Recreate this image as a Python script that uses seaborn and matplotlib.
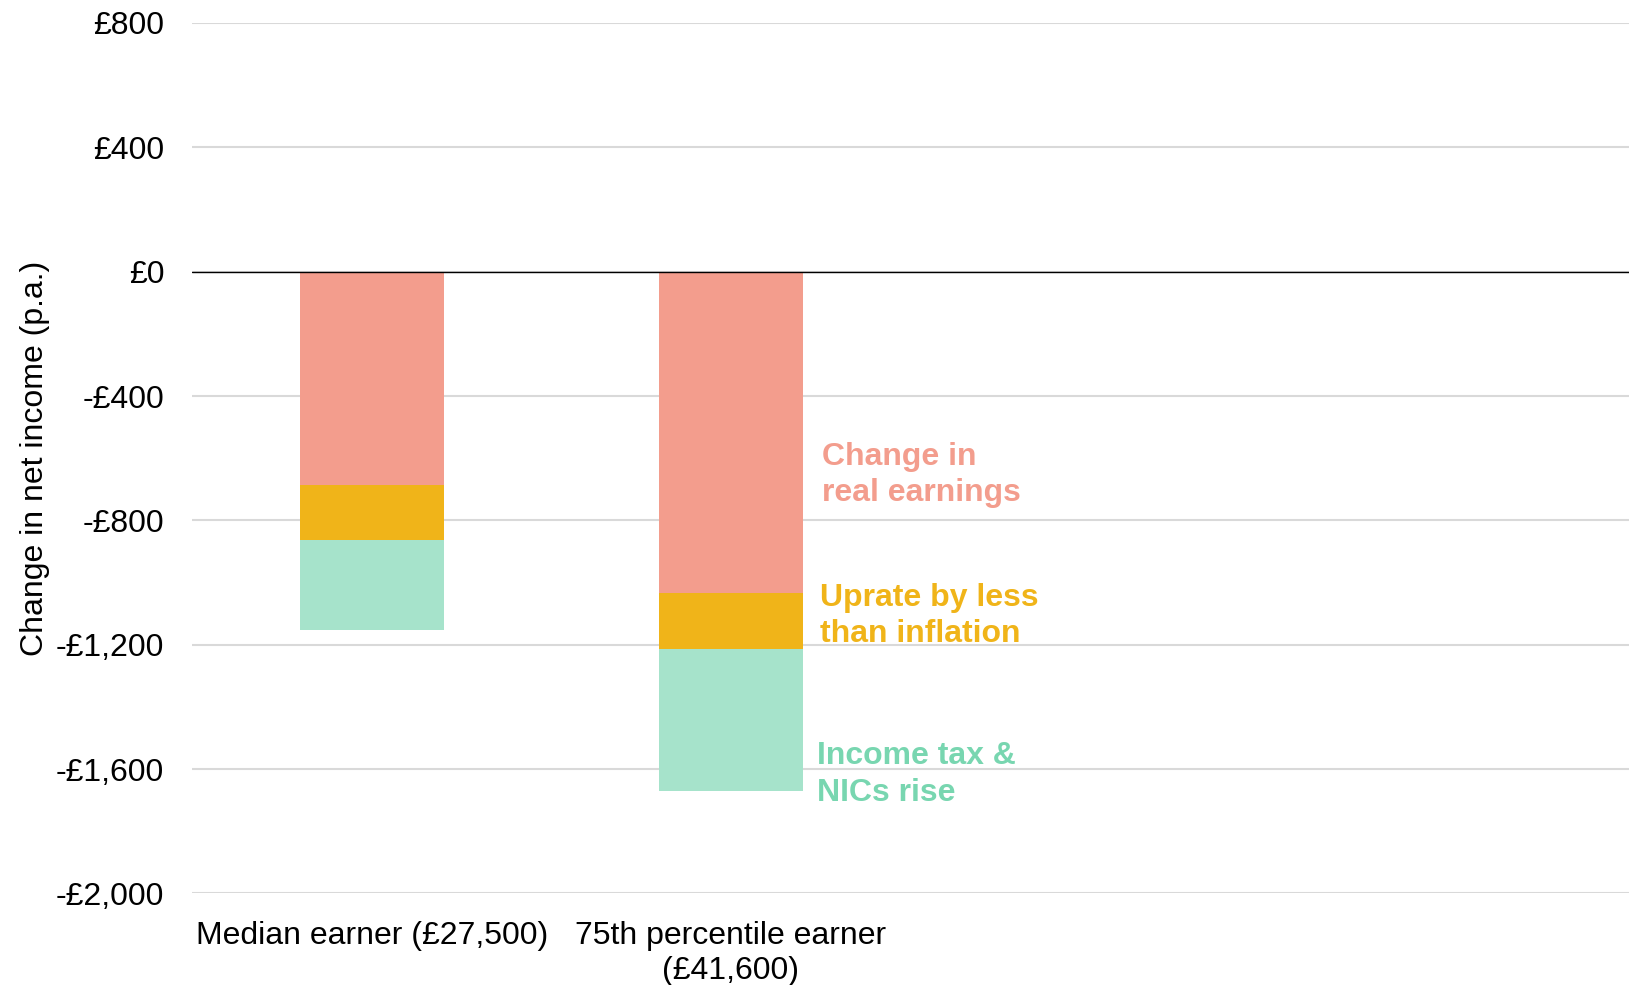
import numpy as np
import pandas as pd
import matplotlib
matplotlib.use("Agg")
import matplotlib.pyplot as plt
import seaborn as sns

# Earner groups and the three components of the change in net income (£ p.a.)
earners = ["Median earner (£27,500)", "75th percentile earner\n(£41,600)"]
real_earnings = [-685, -1035]
uprating = [-177, -178]
tax_nics = [-289, -457]

components = ["Change in\nreal earnings", "Uprate by less\nthan inflation", "Income tax &\nNICs rise"]
bar_colors = ["#F39D8D", "#F0B419", "#A6E3CB"]
text_colors = ["#F39D8D", "#F0B419", "#78D6B0"]

y_ticks = [800, 400, 0, -400, -800, -1200, -1600, -2000]
y_tick_labels = ["£800", "£400", "£0", "-£400", "-£800", "-£1,200", "-£1,600", "-£2,000"]

sns.set_theme(style="white")
plt.rcParams["font.family"] = ["Liberation Sans", "DejaVu Sans"]

fig = plt.figure(figsize=(16.29, 9.85), dpi=100)
ax = fig.add_axes([0.1179, 0.0929, 0.8821, 0.8838])

# Stack by drawing cumulative totals, deepest first
stack = np.cumsum(np.array([real_earnings, uprating, tax_nics]), axis=0)
for level in range(len(components) - 1, -1, -1):
    df = pd.DataFrame({"earner": earners, "value": stack[level]})
    sns.barplot(data=df, x="earner", y="value", order=earners, color=bar_colors[level],
                width=0.4, saturation=1, linewidth=0, ax=ax, zorder=3)

# Segment labels beside the second bar
label_x = [1.253, 1.247, 1.239]
label_y = [-653, -1108, -1617]
for name, col, lx, ly in zip(components, text_colors, label_x, label_y):
    ax.text(lx, ly, name, color=col, fontsize=23, fontweight="bold",
            ha="left", va="center", linespacing=1.27)

ax.set_xlim(-0.5, 3.5)
ax.set_ylim(-2000, 800)
ax.set_yticks(y_ticks)
ax.set_yticklabels(y_tick_labels)
ax.yaxis.grid(True, color="#D9D9D9", linewidth=1.5, zorder=0)
ax.set_axisbelow(True)
ax.axhline(0, color="black", linewidth=1.0, zorder=4)
for side in ["top", "right", "bottom", "left"]:
    ax.spines[side].set_visible(False)

ax.tick_params(axis="y", length=0, pad=20, labelsize=23, labelcolor="black")
ax.tick_params(axis="x", length=0, pad=20, labelsize=23, labelcolor="black")
for lbl in ax.get_xticklabels():
    lbl.set_linespacing(1.22)
ax.set_xlabel("")
ax.set_ylabel("Change in net income (p.a.)", fontsize=23, color="black")
ax.yaxis.set_label_coords(-0.099, 0.5)

fig.savefig("out.png", dpi=100)
